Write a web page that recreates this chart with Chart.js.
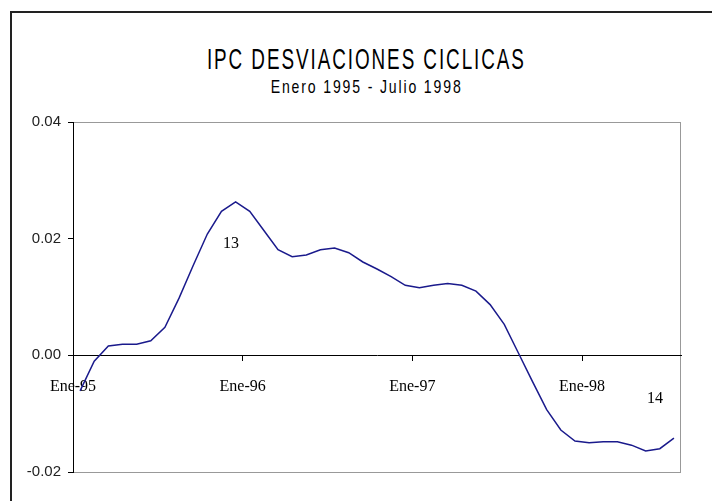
<!DOCTYPE html>
<html>
<head>
<meta charset="utf-8">
<script src="https://cdn.jsdelivr.net/npm/chart.js@4"></script>
<style>
  html, body { margin: 0; background: #fff; overflow: hidden; }
  #wrap { position: relative; width: 712px; height: 501px; overflow: hidden; }
  #marco { position: absolute; left: 10px; top: 11px; width: 702px; height: 490px;
           border-left: 2px solid #222; border-top: 2px solid #222; }
  .titulo { position: absolute; width: 702px; text-align: center;
            font-family: "Liberation Sans", Arial, sans-serif; color: #000; white-space: nowrap; }
  .titulo span { display: inline-block; transform-origin: center; }
  #t1 { left: 15px; top: 45px; font-size: 29px; line-height: 29px; }
  #t1 span { letter-spacing: 3px; transform: scaleX(0.65); }
  #t2 { left: 16px; top: 77px; font-size: 19px; line-height: 19px; }
  #t2 span { letter-spacing: 2.5px; transform: scaleX(0.74); }
  canvas { position: absolute; left: 0; top: 0; }
</style>
</head>
<body>
<div id="wrap">
  <div id="marco"></div>
  <div class="titulo" id="t1"><span>IPC DESVIACIONES CICLICAS</span></div>
  <div class="titulo" id="t2"><span>Enero 1995 - Julio 1998</span></div>
  <canvas id="grafico" width="712" height="501"></canvas>
</div>
<script>
// meses de enero 1995 a julio 1998
const meses = [
    "Ene-95", "Feb-95", "Mar-95", "Abr-95", "May-95", "Jun-95", "Jul-95", "Ago-95", "Sep-95", "Oct-95", "Nov-95", "Dic-95",
    "Ene-96", "Feb-96", "Mar-96", "Abr-96", "May-96", "Jun-96", "Jul-96", "Ago-96", "Sep-96", "Oct-96", "Nov-96", "Dic-96",
    "Ene-97", "Feb-97", "Mar-97", "Abr-97", "May-97", "Jun-97", "Jul-97", "Ago-97", "Sep-97", "Oct-97", "Nov-97", "Dic-97",
    "Ene-98", "Feb-98", "Mar-98", "Abr-98", "May-98", "Jun-98", "Jul-98"
];
const desviaciones = [
    -0.0061, -0.0010, 0.0016, 0.0019, 0.0019, 0.0025, 0.0048, 0.0098, 0.0154, 0.0208, 0.0247, 0.0263,
    0.0247, 0.0214, 0.0181, 0.0169, 0.0172, 0.0181, 0.0184, 0.0176, 0.0160, 0.0148, 0.0135, 0.0120,
    0.0116, 0.0120, 0.0123, 0.0120, 0.0110, 0.0087, 0.0053, 0.0004, -0.0045, -0.0093, -0.0128, -0.0147,
    -0.0150, -0.0148, -0.0148, -0.0154, -0.0164, -0.0160, -0.0142
];
const ticksAnio = [0, 12, 24, 36];
const ticksY = [-0.02, 0.00, 0.02, 0.04];
// etiquetas sueltas del grafico original
const notas = [
    { texto: "13", mes: 11.17, valor: 0.0191 },
    { texto: "14", mes: 41.16, valor: -0.0075 }
];

const puntos = desviaciones.map((v, i) => ({ x: i + 0.5, y: v }));

const marcoPlugin = {
    id: "marco",
    beforeDraw(chart) {
        const a = chart.chartArea;
        const ctx = chart.ctx;
        ctx.save();
        ctx.strokeStyle = "#999";
        ctx.lineWidth = 1;
        ctx.strokeRect(a.left + 0.5, a.top + 0.5, a.right - a.left - 1, a.bottom - a.top);
        ctx.restore();
    }
};

const notasPlugin = {
    id: "notas",
    afterDatasetsDraw(chart) {
        const ctx = chart.ctx;
        ctx.save();
        ctx.font = "16px 'Liberation Serif', 'Times New Roman', serif";
        ctx.fillStyle = "#000";
        ctx.textAlign = "center";
        ctx.textBaseline = "middle";
        for (let n of notas) {
            ctx.fillText(n.texto, chart.scales.x.getPixelForValue(n.mes), chart.scales.y.getPixelForValue(n.valor));
        }
        ctx.restore();
    }
};

Chart.defaults.color = "#000";

new Chart(document.querySelector("#grafico").getContext("2d"), {
    type: "line",
    data: {
        datasets: [{
            label: "IPC",
            data: puntos,
            borderColor: "#1a1a8c",
            borderWidth: 1.5,
            pointRadius: 0,
            tension: 0,
            fill: false
        }]
    },
    options: {
        responsive: false,
        animation: false,
        layout: { padding: { left: 0, right: 31, top: 122, bottom: 29 } },
        plugins: {
            legend: { display: false },
            tooltip: { enabled: false }
        },
        scales: {
            x: {
                type: "linear",
                position: { y: 0 },
                min: 0,
                max: meses.length,
                afterBuildTicks: (s) => { s.ticks = ticksAnio.map((v) => ({ value: v })); },
                ticks: {
                    autoSkip: false,
                    maxRotation: 0,
                    padding: 17,
                    font: { family: "'Liberation Serif', 'Times New Roman', serif", size: 16 },
                    callback: (v) => meses[v]
                },
                grid: { drawOnChartArea: false, tickLength: 5, tickColor: "#000" },
                border: { color: "#000", width: 1 }
            },
            y: {
                min: -0.02,
                max: 0.04,
                afterFit: (s) => { s.width = 73; },
                afterBuildTicks: (s) => { s.ticks = ticksY.map((v) => ({ value: v })); },
                ticks: {
                    padding: 7,
                    font: { family: "'Liberation Sans', Arial, sans-serif", size: 15 },
                    color: "#222",
                    callback: (v) => v.toFixed(2)
                },
                grid: { drawOnChartArea: false, tickLength: 5, tickColor: "#000" },
                border: { color: "#000", width: 1 }
            }
        }
    },
    plugins: [marcoPlugin, notasPlugin]
});
</script>
</body>
</html>
